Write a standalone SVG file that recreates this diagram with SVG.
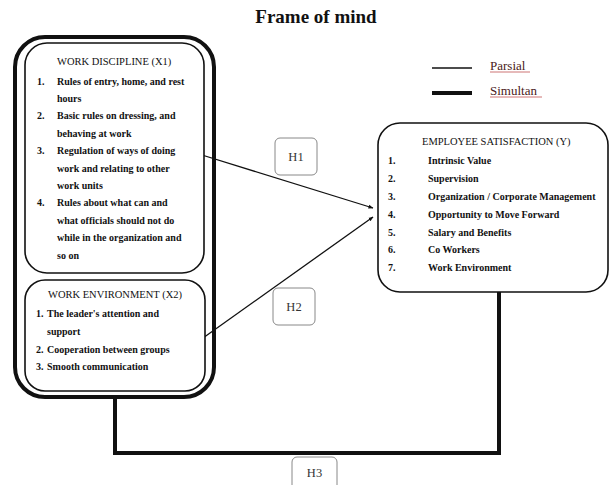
<svg xmlns="http://www.w3.org/2000/svg" width="610" height="485" viewBox="0 0 610 485">
<style>
text{font-family:"Liberation Serif","Times New Roman",serif;fill:#111}
.t{font-size:10.5px}
.i{font-size:10px;font-weight:bold}
.box{fill:#fff;stroke:#111;stroke-width:1.6}
.h{fill:#fff;stroke:#888;stroke-width:1}
.hl{font-size:12.5px;fill:#333}
.thin{stroke:#111;stroke-width:1.3;fill:none}
.thick{stroke:#111;stroke-width:4;fill:none}
</style>
<defs>
<marker id="arr" viewBox="0 0 10 10" refX="9" refY="5" markerWidth="5" markerHeight="5" orient="auto" markerUnits="userSpaceOnUse">
<path d="M0,1 L10,5 L0,9 z" fill="#111"/>
</marker>
</defs>
<rect width="610" height="485" fill="#fff"/>
<text x="316" y="23" text-anchor="middle" style="font-size:19px;font-weight:bold">Frame of mind</text>

<g id="legend">
<line x1="432" y1="68" x2="472" y2="68" stroke="#111" stroke-width="1.3"/>
<line x1="432" y1="93" x2="472" y2="93" stroke="#111" stroke-width="4"/>
<text x="490" y="70" style="font-size:13px;fill:#4a2020">Parsial</text>
<line x1="490" y1="72" x2="530" y2="72" stroke="#c05050" stroke-width="0.8"/>
<text x="490" y="95" style="font-size:13px;fill:#4a2020">Simultan</text>
<line x1="490" y1="97" x2="542" y2="97" stroke="#c05050" stroke-width="0.8"/>
</g>

<g id="connectors">
<path class="thick" d="M115,397 V453 H499 V292"/>
<line class="thin" x1="202" y1="155" x2="373" y2="208" marker-end="url(#arr)"/>
<line class="thin" x1="203" y1="338" x2="373" y2="217" marker-end="url(#arr)"/>
</g>

<g id="outer">
<rect x="15" y="37" width="199" height="360" rx="30" fill="none" stroke="#111" stroke-width="4"/>
</g>

<g id="work-discipline">
<rect class="box" x="25" y="43" width="179" height="230" rx="22"/>
<text class="t" x="57" y="65">WORK DISCIPLINE (X1)</text>
<text class="i" x="37" y="85">1.</text>
<text class="i" x="57" y="85">Rules of entry, home, and rest</text>
<text class="i" x="57" y="102">hours</text>
<text class="i" x="37" y="119">2.</text>
<text class="i" x="57" y="119">Basic rules on dressing, and</text>
<text class="i" x="57" y="137">behaving at work</text>
<text class="i" x="37" y="154">3.</text>
<text class="i" x="57" y="154">Regulation of ways of doing</text>
<text class="i" x="57" y="172">work and relating to other</text>
<text class="i" x="57" y="189">work units</text>
<text class="i" x="37" y="206">4.</text>
<text class="i" x="57" y="206">Rules about what can and</text>
<text class="i" x="57" y="224">what officials should not do</text>
<text class="i" x="57" y="241">while in the organization and</text>
<text class="i" x="57" y="259">so on</text>
</g>

<g id="work-environment">
<rect class="box" x="25" y="280" width="180" height="111" rx="20"/>
<text class="t" x="48" y="298">WORK ENVIRONMENT (X2)</text>
<text class="i" x="36" y="317">1.</text>
<text class="i" x="47" y="317">The leader's attention and</text>
<text class="i" x="47" y="335">support</text>
<text class="i" x="36" y="353">2.</text>
<text class="i" x="47" y="353">Cooperation between groups</text>
<text class="i" x="36" y="370">3.</text>
<text class="i" x="47" y="370">Smooth communication</text>
</g>

<g id="employee-satisfaction">
<rect class="box" x="378" y="123" width="230" height="169" rx="22"/>
<text class="t" x="422" y="145">EMPLOYEE SATISFACTION (Y)</text>
<text class="i" x="388" y="164">1.</text><text class="i" x="428" y="164">Intrinsic Value</text>
<text class="i" x="388" y="182">2.</text><text class="i" x="428" y="182">Supervision</text>
<text class="i" x="388" y="200">3.</text><text class="i" x="428" y="200">Organization / Corporate Management</text>
<text class="i" x="388" y="218">4.</text><text class="i" x="428" y="218">Opportunity to Move Forward</text>
<text class="i" x="388" y="236">5.</text><text class="i" x="428" y="236">Salary and Benefits</text>
<text class="i" x="388" y="253">6.</text><text class="i" x="428" y="253">Co Workers</text>
<text class="i" x="388" y="271">7.</text><text class="i" x="428" y="271">Work Environment</text>
</g>

<g id="H1">
<rect class="h" x="275" y="138" width="42" height="37" rx="5"/>
<text class="hl" x="296" y="161" text-anchor="middle">H1</text>
</g>
<g id="H2">
<rect class="h" x="273" y="288" width="42" height="37" rx="5"/>
<text class="hl" x="294" y="311" text-anchor="middle">H2</text>
</g>
<g id="H3">
<rect class="h" x="292" y="457" width="45" height="36" rx="5"/>
<text class="hl" x="314.5" y="477" text-anchor="middle">H3</text>
</g>
</svg>
